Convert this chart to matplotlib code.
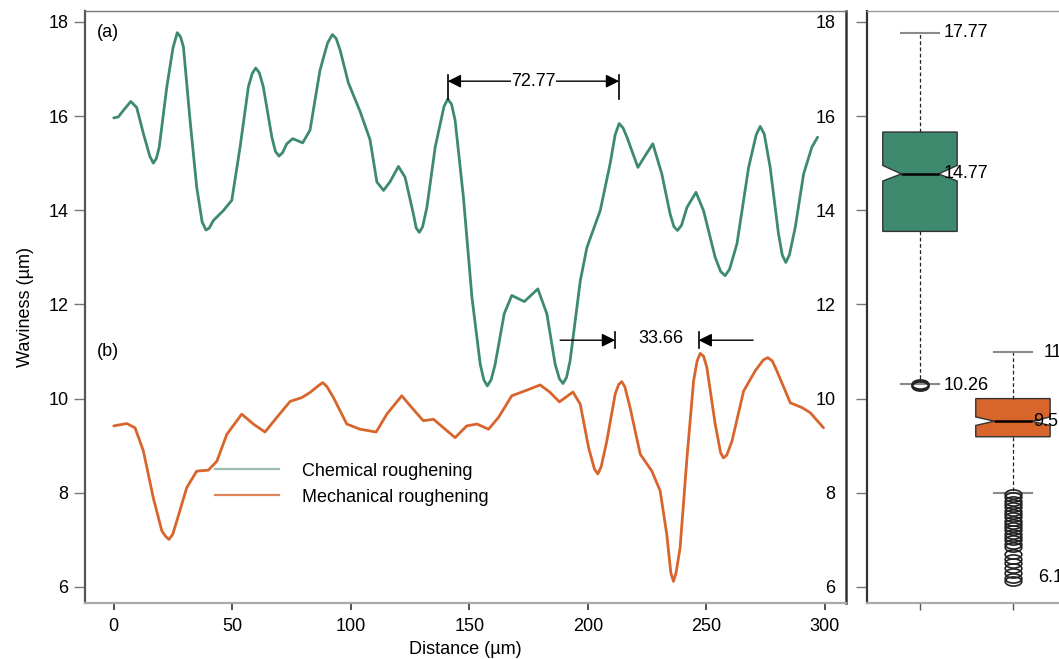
import matplotlib
matplotlib.use("Agg")
import matplotlib.pyplot as plt
from matplotlib.lines import Line2D
from matplotlib.path import Path
from matplotlib.transforms import Affine2D

plt.rcParams["font.family"] = ["Liberation Sans", "DejaVu Sans"]
plt.rcParams["font.size"] = 13

green = "#3e8a6e"
orange = "#d8652b"

# waviness profiles (distance in um, waviness in um)
chem_x = [0, 1.9, 4.1, 7.2, 9.7, 12.5, 15.2, 16.7, 18.0, 19.2, 22.4, 25.0, 26.8,
          28.2, 29.4, 32.2, 35.0, 37.3, 38.9, 40.3, 42.0, 46.2, 49.8, 53.3, 56.8,
          58.4, 59.9, 61.4, 63.1, 66.7, 68.2, 69.7, 71.2, 73.0, 75.5, 79.7, 82.8,
          87.0, 90.2, 92.2, 93.8, 95.5, 99.0, 103.9, 108.1, 111.0, 113.8, 116.5,
          120.1, 122.9, 126.4, 127.6, 128.9, 130.3, 132.1, 135.6, 139.3, 140.9,
          142.5, 144.0, 147.5, 151.1, 154.6, 156.1, 157.6, 159.2, 160.9, 164.7,
          167.9, 173.2, 178.9, 182.7, 186.2, 188.0, 189.5, 191.0, 192.5, 196.8,
          199.6, 205.2, 209.4, 211.5, 213.2, 214.8, 216.5, 221.1, 224.2, 227.4,
          231.2, 234.7, 236.3, 237.8, 239.5, 241.8, 245.6, 248.8, 253.7, 256.0,
          257.9, 259.8, 262.9, 267.8, 271.0, 272.7, 274.4, 276.9, 280.4, 282.0,
          283.5, 285.0, 287.5, 291.0, 294.5, 296.9]
chem_y = [15.96, 15.98, 16.12, 16.31, 16.18, 15.63, 15.15, 15.0, 15.1, 15.34,
          16.62, 17.45, 17.77, 17.68, 17.47, 15.91, 14.49, 13.75, 13.58, 13.62,
          13.78, 13.99, 14.21, 15.34, 16.62, 16.9, 17.02, 16.92, 16.62, 15.55,
          15.25, 15.15, 15.22, 15.41, 15.52, 15.43, 15.70, 16.97, 17.55, 17.73,
          17.65, 17.40, 16.7, 16.1, 15.5, 14.6, 14.42, 14.6, 14.93, 14.70, 13.92,
          13.62, 13.53, 13.65, 14.06, 15.34, 16.2, 16.36, 16.25, 15.91, 14.28,
          12.15, 10.73, 10.4, 10.27, 10.4, 10.73, 11.80, 12.19, 12.06, 12.33,
          11.80, 10.73, 10.42, 10.32, 10.45, 10.80, 12.50, 13.21, 13.99, 14.99,
          15.6, 15.84, 15.75, 15.55, 14.91, 15.16, 15.41, 14.77, 13.92, 13.65,
          13.57, 13.68, 14.06, 14.38, 13.99, 13.0, 12.7, 12.61, 12.75, 13.29,
          14.91, 15.6, 15.78, 15.62, 14.91, 13.50, 13.05, 12.89, 13.05, 13.64,
          14.77, 15.34, 15.55]

mech_x = [0, 5.5, 9.0, 12.5, 16.7, 20.3, 21.8, 23.3, 24.9, 26.6, 30.8, 35.0, 39.9,
          43.5, 47.7, 54.0, 58.9, 63.8, 68.8, 74.4, 79.3, 82.8, 86.5, 88.2, 90.0,
          92.7, 98.3, 103.9, 110.7, 115.2, 121.5, 125.7, 130.6, 134.9, 139.1,
          144.0, 148.9, 153.2, 158.1, 162.3, 167.9, 174.3, 179.9, 184.1, 188.0,
          193.7, 196.8, 200.3, 202.8, 204.2, 205.6, 208.0, 211.5, 213.0, 214.3,
          215.6, 217.8, 222.1, 227.0, 230.5, 233.3, 235.0, 236.1, 237.2, 238.9,
          241.8, 244.6, 246.1, 247.4, 248.8, 250.2, 253.7, 256.0, 257.2, 258.6,
          260.8, 265.7, 270.6, 274.0, 275.9, 277.8, 279.7, 285.4, 290.3, 293.8,
          299.4]
mech_y = [9.42, 9.47, 9.38, 8.89, 7.89, 7.19, 7.08, 7.01, 7.12, 7.40, 8.11, 8.46,
          8.48, 8.67, 9.24, 9.67, 9.46, 9.29, 9.60, 9.94, 10.02, 10.13, 10.28,
          10.34, 10.25, 10.02, 9.46, 9.35, 9.29, 9.67, 10.06, 9.81, 9.53, 9.56,
          9.38, 9.17, 9.42, 9.46, 9.35, 9.60, 10.06, 10.18, 10.29, 10.13, 9.93,
          10.14, 9.88, 8.96, 8.5, 8.40, 8.55, 9.10, 10.09, 10.3, 10.36, 10.25,
          9.81, 8.82, 8.46, 8.04, 7.11, 6.3, 6.12, 6.3, 6.83, 8.74, 10.38, 10.8,
          10.96, 10.9, 10.66, 9.46, 8.85, 8.74, 8.8, 9.10, 10.16, 10.59, 10.82,
          10.87, 10.8, 10.59, 9.91, 9.81, 9.70, 9.38]

# box plot summaries
chem_stats = dict(med=14.77, q1=13.55, q3=15.66, whislo=10.30, whishi=17.77,
                  cilo=14.62, cihi=14.95, fliers=[10.26, 10.28, 10.31])
mech_stats = dict(med=9.52, q1=9.19, q3=10.0, whislo=8.0, whishi=10.98,
                  cilo=9.43, cihi=9.61,
                  fliers=[7.97, 7.9, 7.83, 7.76, 7.69, 7.62, 7.55, 7.48, 7.41, 7.34,
                          7.27, 7.2, 7.13, 7.06, 6.99, 6.92, 6.85, 6.7, 6.6, 6.5,
                          6.4, 6.3, 6.2, 6.12])
box_labels = [(1.25, 17.77, "17.77"), (1.25, 14.77, "14.77"), (1.25, 10.28, "10.26"),
              (2.33, 10.98, "11"), (2.22, 9.52, "9.5"), (2.27, 6.2, "6.1")]

# dimension markers
dim_a = dict(x0=140.9, x1=213.2, y=16.74, ylo=16.36, yhi=16.88, text="72.77", tx=177)
dim_b = dict(x0=188.3, x1=211.5, x2=246.7, x3=269.7, y=11.24, ylo=11.07, yhi=11.42,
             text="33.66", tx=230.7)

fig = plt.figure(figsize=(10.59, 6.59), dpi=100)
ax = fig.add_axes([0.0803, 0.0850, 0.7186, 0.8983])
ax2 = fig.add_axes([0.8184, 0.0850, 0.1908, 0.8983])

ax.plot(chem_x, chem_y, color=green, lw=2.0, solid_capstyle="round",
        solid_joinstyle="round")
ax.plot(mech_x, mech_y, color=orange, lw=2.0, solid_capstyle="round",
        solid_joinstyle="round")

ax.set_xlim(-12.1, 308.9)
ax.set_ylim(5.66, 18.23)
ax.set_xticks(range(0, 301, 50))
ax.set_yticks(range(6, 19, 2))
ax.set_xlabel("Distance (µm)", labelpad=4)
ax.set_ylabel("Waviness (µm)", labelpad=10)
ax.tick_params(axis="y", length=8, width=1, color="#777777", pad=4)
ax.tick_params(axis="x", length=5, width=1.2, color="#333333", pad=6)

for name, c, w in [("left", "#555555", 1.6), ("bottom", "#aaaaaa", 1.6),
                   ("top", "#777777", 1.0), ("right", "#333333", 1.8)]:
    ax.spines[name].set_color(c)
    ax.spines[name].set_linewidth(w)

ax.text(-7.0, 17.78, "(a)", ha="left", va="center")
ax.text(-7.0, 11.0, "(b)", ha="left", va="center")

handles = [Line2D([], [], color="#9dbdb1", lw=1.6),
           Line2D([], [], color="#e0845a", lw=1.6)]
ax.legend(handles, ["Chemical roughening", "Mechanical roughening"],
          loc="upper left", bbox_to_anchor=(0.171, 0.237), frameon=False,
          borderpad=0, borderaxespad=0, handlelength=3.55, handletextpad=1.25,
          labelspacing=0.5)

# 72.77 dimension
arrow_kw = dict(color="black", lw=1.0, shrinkA=0, shrinkB=0, mutation_scale=20)
ax.annotate("", xy=(dim_a["x0"], dim_a["y"]), xytext=(dim_a["x1"], dim_a["y"]),
            arrowprops=dict(arrowstyle="<|-|>", **arrow_kw))
for xv in (dim_a["x0"], dim_a["x1"]):
    ax.plot([xv, xv], [dim_a["ylo"], dim_a["yhi"]], color="black", lw=1.2)
ax.text(dim_a["tx"], dim_a["y"], dim_a["text"], ha="center", va="center",
        bbox=dict(facecolor="white", edgecolor="none", pad=0.2))

# 33.66 dimension
ax.annotate("", xy=(dim_b["x1"], dim_b["y"]), xytext=(dim_b["x0"], dim_b["y"]),
            arrowprops=dict(arrowstyle="-|>", **arrow_kw))
ax.annotate("", xy=(dim_b["x2"], dim_b["y"]), xytext=(dim_b["x3"], dim_b["y"]),
            arrowprops=dict(arrowstyle="-|>", **arrow_kw))
for xv in (dim_b["x1"], dim_b["x2"]):
    ax.plot([xv, xv], [dim_b["ylo"], dim_b["yhi"]], color="black", lw=1.2)
ax.text(dim_b["tx"], dim_b["y"] + 0.04, dim_b["text"], ha="center", va="center")

# box plots
ellipse = Path.unit_circle().transformed(Affine2D().scale(1.0, 0.55))
bp = ax2.bxp([chem_stats, mech_stats], positions=[1, 2], widths=0.8,
             shownotches=True, patch_artist=True,
             boxprops=dict(edgecolor="#333333", linewidth=1.0),
             whiskerprops=dict(color="#222222", linewidth=0.9, linestyle=(0, (3, 2))),
             capprops=dict(color="#8a8a8a", linewidth=1.5),
             medianprops=dict(color="black", linewidth=1.8),
             flierprops=dict(marker=ellipse, markersize=12, markerfacecolor="none",
                             markeredgecolor="#222222", markeredgewidth=1.2))
for patch, c in zip(bp["boxes"], [green, orange]):
    patch.set_facecolor(c)

for xv, yv, s in box_labels:
    ax2.text(xv, yv, s, ha="left", va="center")

ax2.set_xlim(0.427, 2.6)
ax2.set_ylim(5.66, 18.23)
ax2.set_yticks(range(6, 19, 2))
ax2.set_xticks([1, 2])
ax2.set_xticklabels(["", ""])
ax2.tick_params(axis="y", length=8, width=1, color="#777777", pad=14.5)
ax2.tick_params(axis="x", length=5, width=1, color="#555555")
for name, c, w in [("left", "#333333", 1.6), ("bottom", "#aaaaaa", 1.6),
                   ("top", "#999999", 1.0), ("right", "#999999", 1.0)]:
    ax2.spines[name].set_color(c)
    ax2.spines[name].set_linewidth(w)

fig.savefig("out.png", dpi=100)
